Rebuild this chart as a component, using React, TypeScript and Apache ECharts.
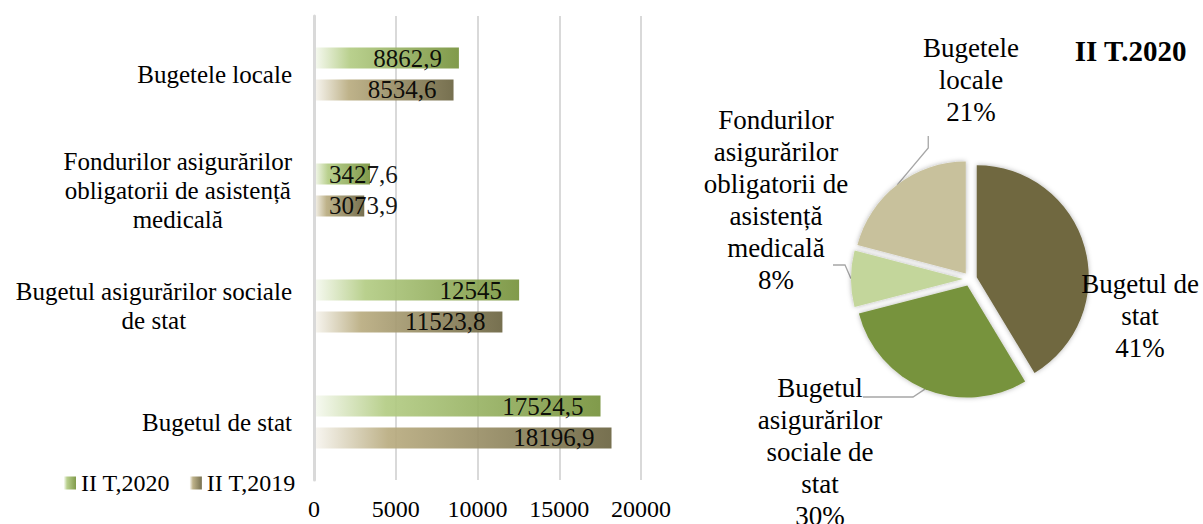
import React, { useEffect, useRef } from "react";
import * as echarts from "echarts";

const categories = [
  "Bugetul de stat",
  "Bugetul asigurărilor sociale\nde stat",
  "Fondurilor asigurărilor\nobligatorii de asistență\nmedicală",
  "Bugetele locale",
];
const seriesNames = ["II T,2020", "II T,2019"];
const values2020 = [17524.5, 12545, 3427.6, 8862.9];
const values2019 = [18196.9, 11523.8, 3073.9, 8534.6];
const xMin = 0;
const xMax = 20000;
const xInterval = 5000;

const pieTitle = "II T.2020";
const pieNames = [
  "Bugetul de\nstat",
  "Bugetul\nasigurărilor\nsociale de\nstat",
  "Fondurilor\nasigurărilor\nobligatorii de\nasistență\nmedicală",
  "Bugetele\nlocale",
];
const pieValues = values2020;

const FONT = "Liberation Serif";
const pieColors = ["#6f6841", "#77933c", "#c3d69b", "#c8c19c"];
const pieCenter = [970, 279];
const pieRadius = 112;
const explode = 7;
const pieLabelPos = [
  [1140, 316],
  [820, 452],
  [776, 200],
  [971, 80],
];
// leader line end points (x, y, side of the invisible anchor box, bend length)
const leaderEnds: (null | [number, number, string, number])[] = [
  null,
  [863, 397, "right", 50],
  [833, 265, "right", 12],
  [928, 135, "left", 12],
];

const green = new echarts.graphic.LinearGradient(0, 0, 1, 0, [
  { offset: 0, color: "#f7faf2" },
  { offset: 0.25, color: "#b3cc84" },
  { offset: 1, color: "#76923c" },
]);
const brown = new echarts.graphic.LinearGradient(0, 0, 1, 0, [
  { offset: 0, color: "#f8f6f1" },
  { offset: 0.25, color: "#b9ac80" },
  { offset: 1, color: "#6b6441" },
]);

function barData(vals: number[]) {
  return vals.map((v) =>
    v < 5000
      ? { value: v, label: { position: "insideLeft", distance: 15 } }
      : { value: v }
  );
}

function sliceCenters() {
  const total = pieValues.reduce((a, b) => a + b, 0);
  let acc = 0;
  return pieValues.map((v) => {
    const m = ((acc + v / 2) / total) * Math.PI * 2;
    acc += v;
    return [pieCenter[0] + explode * Math.sin(m), pieCenter[1] - explode * Math.cos(m)];
  });
}

function pieSeries() {
  const centers = sliceCenters();
  const base = {
    type: "pie",
    radius: pieRadius,
    startAngle: 90,
    clockwise: true,
    percentPrecision: 0,
    silent: true,
    emphasis: { disabled: true },
  };
  const textSeries = pieValues.map((_, i) => ({
    ...base,
    center: centers[i],
    label: {
      show: false,
      position: "outside",
      formatter: "{b}\n{d}%",
      fontFamily: FONT,
      fontSize: 27,
      lineHeight: 32,
      color: "#000",
      align: "center",
      overflow: "none",
    },
    labelLine: { show: false },
    labelLayout: (p: any) =>
      p.dataIndex === i
        ? { x: pieLabelPos[i][0], y: pieLabelPos[i][1], align: "center", verticalAlign: "middle" }
        : {},
    data: pieNames.map((n, j) => ({
      name: n,
      value: pieValues[j],
      itemStyle:
        j === i
          ? { color: pieColors[j], shadowBlur: 5, shadowColor: "rgba(0,0,0,0.3)" }
          : { color: "rgba(0,0,0,0)" },
      label: j === i ? (j === 0 ? { show: true, width: 150 } : { show: true }) : { show: false },
    })),
  }));
  const lineSeries: any[] = [];
  leaderEnds.forEach((e, i) => {
    if (!e) return;
    lineSeries.push({
      ...base,
      center: centers[i],
      z: 1,
      label: {
        show: false,
        position: "outside",
        formatter: "{a|\u00a0}",
        rich: { a: { width: 40, height: 4, fontSize: 2 } },
      },
      labelLine: {
        show: false,
        length: 10,
        length2: e[3],
        minTurnAngle: 20,
        lineStyle: { color: "#a6a6a6", width: 1.3 },
      },
      labelLayout: (p: any) =>
        p.dataIndex === i ? { x: e[0], y: e[1], align: e[2], verticalAlign: "middle" } : {},
      data: pieNames.map((n, j) => ({
        name: n,
        value: pieValues[j],
        itemStyle: { color: "rgba(0,0,0,0)" },
        label: { show: j === i },
        labelLine: { show: j === i },
      })),
    });
  });
  return [...lineSeries, ...textSeries];
}

export default function App() {
  const ref = useRef<HTMLDivElement>(null);
  useEffect(() => {
    if (!ref.current) return;
    const chart = echarts.init(ref.current, null, { renderer: "svg" });
    const barLabel = {
      show: true,
      position: "insideRight",
      distance: 17,
      fontFamily: FONT,
      fontSize: 25,
      color: "#000",
      formatter: (p: any) => String(p.value).replace(".", ","),
    };
    chart.setOption({
      animation: false,
      textStyle: { fontFamily: FONT },
      title: {
        text: pieTitle,
        right: 16,
        top: 36,
        padding: 0,
        textStyle: { fontFamily: FONT, fontSize: 29, fontWeight: "bold", color: "#000" },
      },
      legend: {
        left: 64,
        top: 471,
        padding: 0,
        itemWidth: 12,
        itemHeight: 13,
        itemGap: 20,
        icon: "rect",
        data: seriesNames,
        textStyle: { fontFamily: FONT, fontSize: 24, color: "#000" },
      },
      grid: { left: 314, top: 16, width: 327, height: 464 },
      xAxis: {
        type: "value",
        min: xMin,
        max: xMax,
        interval: xInterval,
        axisLine: { show: false },
        axisTick: { show: false },
        axisLabel: {
          fontFamily: FONT,
          fontSize: 24,
          color: "#000",
          margin: 17,
          formatter: (v: number) => String(v),
        },
        splitLine: { lineStyle: { color: "#d9d9d9", width: 2 } },
      },
      yAxis: {
        type: "category",
        data: categories,
        z: 3,
        axisLine: { show: true, lineStyle: { color: "#d9d9d9", width: 3 } },
        axisTick: { show: false },
        axisLabel: {
          margin: 22,
          formatter: (v: string) => v.split("\n").map((s) => `{c|${s}}`).join("\n"),
          rich: {
            c: { align: "center", fontFamily: FONT, fontSize: 25, lineHeight: 29, color: "#000" },
          },
        },
      },
      series: [
        {
          name: seriesNames[0],
          type: "bar",
          data: barData(values2020),
          barWidth: 21,
          barGap: "52%",
          itemStyle: { color: green, opacity: 0.92 },
          label: barLabel,
        },
        {
          name: seriesNames[1],
          type: "bar",
          data: barData(values2019),
          barWidth: 21,
          barGap: "52%",
          itemStyle: { color: brown, opacity: 0.92 },
          label: barLabel,
        },
        ...pieSeries(),
      ],
    });
    return () => chart.dispose();
  }, []);
  return (
    <div
      ref={ref}
      style={{ position: "fixed", left: 0, top: 0, width: 1203, height: 524, background: "#fff" }}
    />
  );
}
